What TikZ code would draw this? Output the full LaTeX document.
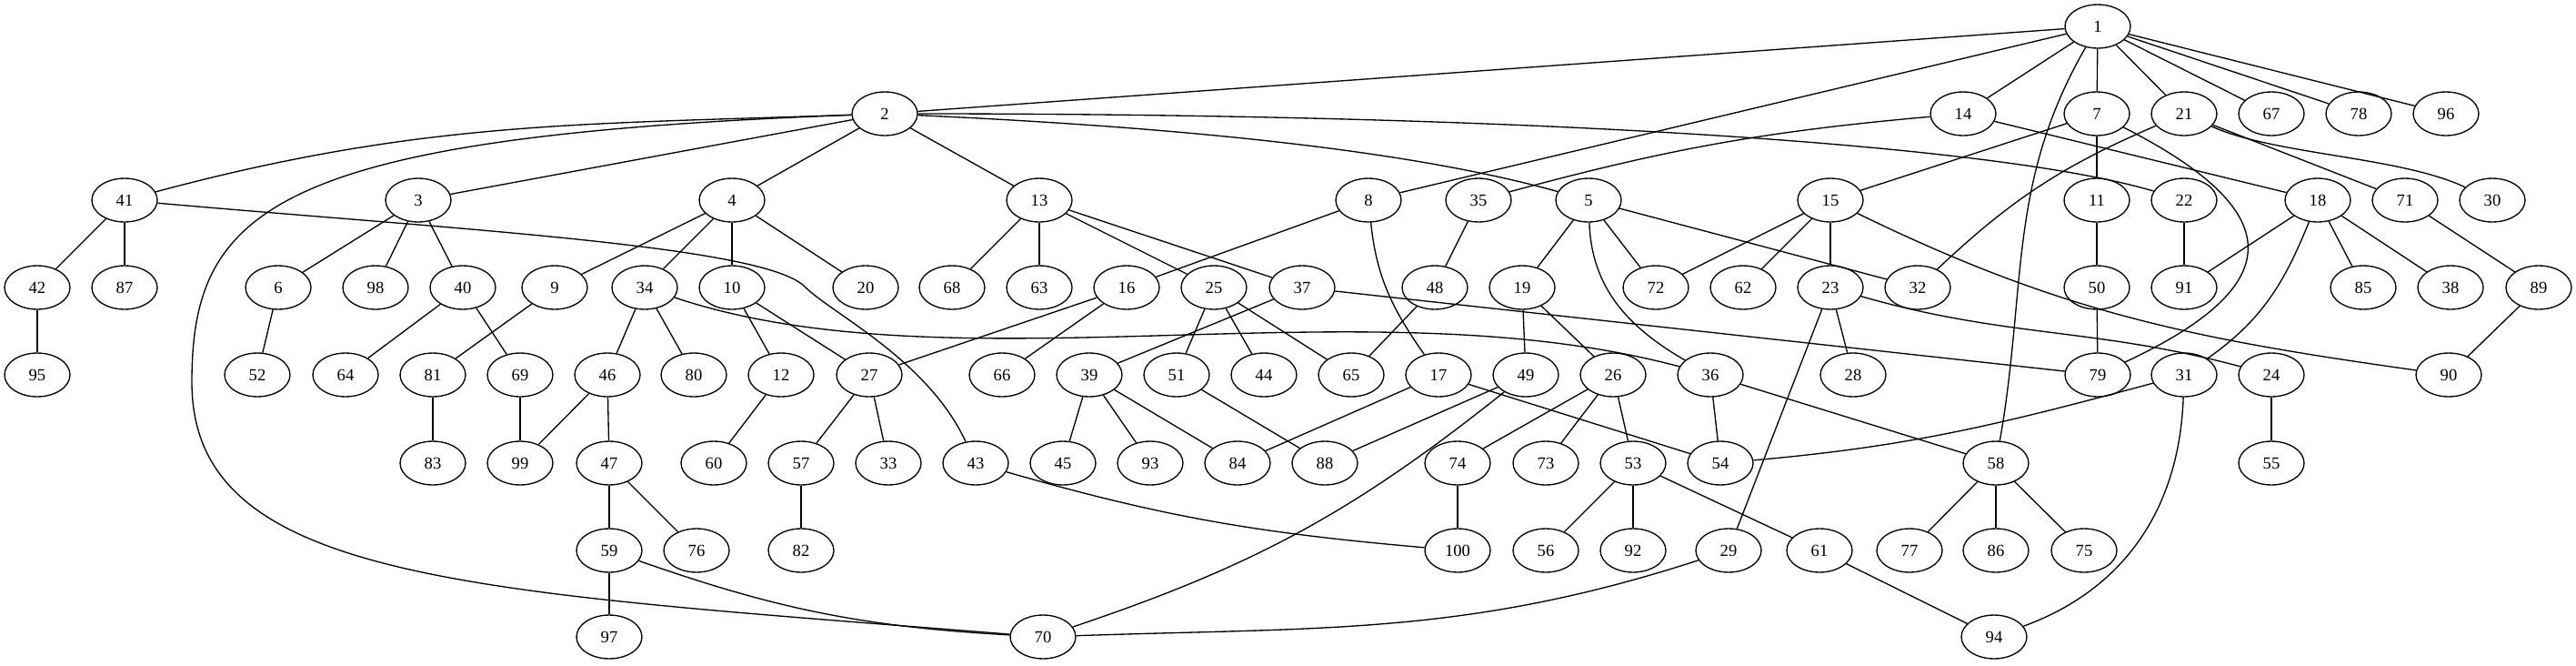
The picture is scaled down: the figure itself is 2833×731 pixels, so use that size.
\documentclass[tikz,border=0pt]{standalone}
\usepackage{fontspec}
\setmainfont{Liberation Serif}
\usepackage{tikz}
\usetikzlibrary{shapes.geometric}
\tikzset{arista/.style={line width=1pt}}

\begin{document}
\begin{tikzpicture}[
            x = 0.7528pt, y = 0.7528pt,
            every node/.style={draw, ellipse, line width=1pt, minimum width=54.2pt,
                minimum height=36.1pt, inner sep=0pt, font=\fontsize{14}{16}\selectfont}
        ]
            \useasboundingbox (0,0) rectangle (2833,-731);

            \node[] (1) at (2307,-29) {1};

            \node[] (2) at (973,-125) {2};
            \node[] (14) at (2159,-125) {14};
            \node[] (7) at (2306,-125) {7};
            \node[] (21) at (2402,-125) {21};
            \node[] (67) at (2498,-125) {67};
            \node[] (78) at (2594,-125) {78};
            \node[] (96) at (2690,-125) {96};

            \node[] (41) at (137,-220) {41};
            \node[] (3) at (460,-220) {3};
            \node[] (4) at (805,-220) {4};
            \node[] (13) at (1143,-220) {13};
            \node[] (8) at (1505,-220) {8};
            \node[] (35) at (1626,-220) {35};
            \node[] (5) at (1747,-220) {5};
            \node[] (15) at (2013,-220) {15};
            \node[] (11) at (2306,-220) {11};
            \node[] (22) at (2402,-220) {22};
            \node[] (18) at (2549,-220) {18};
            \node[] (71) at (2645,-220) {71};
            \node[] (30) at (2741,-220) {30};

            \node[] (42) at (41,-316) {42};
            \node[] (87) at (137,-316) {87};
            \node[] (6) at (306,-316) {6};
            \node[] (98) at (413,-316) {98};
            \node[] (40) at (509,-316) {40};
            \node[] (9) at (610,-316) {9};
            \node[] (34) at (709,-316) {34};
            \node[] (10) at (805,-316) {10};
            \node[] (20) at (952,-316) {20};
            \node[] (68) at (1047,-316) {68};
            \node[] (63) at (1143,-316) {63};
            \node[] (16) at (1239,-316) {16};
            \node[] (25) at (1335,-316) {25};
            \node[] (37) at (1432,-316) {37};
            \node[] (48) at (1578,-316) {48};
            \node[] (19) at (1674,-316) {19};
            \node[] (72) at (1821,-316) {72};
            \node[] (62) at (1917,-316) {62};
            \node[] (23) at (2013,-316) {23};
            \node[] (32) at (2109,-316) {32};
            \node[] (50) at (2306,-316) {50};
            \node[] (91) at (2402,-316) {91};
            \node[] (85) at (2599,-316) {85};
            \node[] (38) at (2695,-316) {38};
            \node[] (89) at (2792,-316) {89};

            \node[] (95) at (41,-412) {95};
            \node[] (52) at (283,-412) {52};
            \node[] (64) at (380,-412) {64};
            \node[] (81) at (476,-412) {81};
            \node[] (69) at (572,-412) {69};
            \node[] (46) at (668,-412) {46};
            \node[] (80) at (763,-412) {80};
            \node[] (12) at (859,-412) {12};
            \node[] (27) at (956,-412) {27};
            \node[] (66) at (1102,-412) {66};
            \node[] (39) at (1198,-412) {39};
            \node[] (51) at (1294,-412) {51};
            \node[] (44) at (1390,-412) {44};
            \node[] (65) at (1486,-412) {65};
            \node[] (17) at (1582,-412) {17};
            \node[] (49) at (1678,-412) {49};
            \node[] (26) at (1774,-412) {26};
            \node[] (36) at (1881,-412) {36};
            \node[] (28) at (2038,-412) {28};
            \node[] (79) at (2307,-412) {79};
            \node[] (31) at (2402,-412) {31};
            \node[] (24) at (2498,-412) {24};
            \node[] (90) at (2693,-412) {90};

            \node[] (83) at (476,-509) {83};
            \node[] (99) at (572,-509) {99};
            \node[] (47) at (670,-509) {47};
            \node[] (60) at (785,-509) {60};
            \node[] (57) at (881,-509) {57};
            \node[] (33) at (977,-509) {33};
            \node[] (43) at (1073,-509) {43};
            \node[] (45) at (1169,-509) {45};
            \node[] (93) at (1265,-509) {93};
            \node[] (84) at (1361,-509) {84};
            \node[] (88) at (1457,-509) {88};
            \node[] (74) at (1603,-509) {74};
            \node[] (73) at (1700,-509) {73};
            \node[] (53) at (1796,-509) {53};
            \node[] (54) at (1892,-509) {54};
            \node[] (58) at (2195,-509) {58};
            \node[] (55) at (2498,-509) {55};

            \node[] (59) at (670,-605) {59};
            \node[] (76) at (766,-605) {76};
            \node[] (82) at (881,-605) {82};
            \node[] (100) at (1603,-605) {100};
            \node[] (56) at (1700,-605) {56};
            \node[] (92) at (1796,-605) {92};
            \node[] (29) at (1901,-605) {29};
            \node[] (61) at (2001,-605) {61};
            \node[] (77) at (2100,-605) {77};
            \node[] (86) at (2195,-605) {86};
            \node[] (75) at (2292,-605) {75};

            \node[] (97) at (670,-700) {97};
            \node[] (70) at (1147,-700) {70};
            \node[] (94) at (2193,-700) {94};

            \draw[arista] (1) to (2);
            \draw[arista] (1) to (8);
            \draw[arista] (1) to (14);
            \draw[arista] (1) to (7);
            \draw[arista] (1) to (21);
            \draw[arista] (1) to (67);
            \draw[arista] (1) to (78);
            \draw[arista] (1) to (96);
            \draw[arista] (1) to [out=-120, in=80] (58);
            \draw[arista] (41) to [out=15, in=182] (2);
            \draw[arista] (2) to (3);
            \draw[arista] (2) to (4);
            \draw[arista] (2) to (13);
            \draw[arista] (2) .. controls (1300,-140) and (1550,-165) .. (5);
            \draw[arista] (2) .. controls (1700,-125) and (2200,-160) .. (22);
            \draw[arista] (2) .. controls (300,-150) and (211,-230) .. (211,-420)
                .. controls (211,-640) and (520,-650) .. (70);
            \draw[arista] (3) to (6);
            \draw[arista] (3) to (98);
            \draw[arista] (3) to (40);
            \draw[arista] (4) to (9);
            \draw[arista] (4) to (34);
            \draw[arista] (4) to (10);
            \draw[arista] (4) to (20);
            \draw[arista] (41) to (42);
            \draw[arista] (41) to (87);
            \draw[arista] (41) .. controls (500,-252) and (840,-270) .. (885,-315)
                .. controls (915,-345) and (1020,-395) .. (43);
            \draw[arista] (13) to (68);
            \draw[arista] (13) to (63);
            \draw[arista] (13) to (25);
            \draw[arista] (13) to (37);
            \draw[arista] (8) to (16);
            \draw[arista] (8) to [out=-84, in=125] (17);
            \draw[arista] (35) to (48);
            \draw[arista] (14) to [bend right=5] (35);
            \draw[arista] (14) to (18);
            \draw[arista] (7) to (11);
            \draw[arista] (7) to (15);
            \draw[arista] (7) to [out=-27, in=25, looseness=2] (79);
            \draw[arista] (21) to [bend right=10] (32);
            \draw[arista] (21) to (71);
            \draw[arista] (21) .. controls (2500,-170) and (2640,-172) .. (30);
            \draw[arista] (5) to (19);
            \draw[arista] (5) to (72);
            \draw[arista] (5) to (32);
            \draw[arista] (5) to [out=-88, in=150] (36);
            \draw[arista] (15) to (62);
            \draw[arista] (15) to (72);
            \draw[arista] (15) to (23);
            \draw[arista] (15) to [out=-26, in=172] (90);
            \draw[arista] (11) to (50);
            \draw[arista] (22) to (91);
            \draw[arista] (18) to (91);
            \draw[arista] (18) to [out=-112, in=35] (31);
            \draw[arista] (18) to (85);
            \draw[arista] (18) to (38);
            \draw[arista] (71) to (89);
            \draw[arista] (42) to (95);
            \draw[arista] (6) to (52);
            \draw[arista] (40) to (64);
            \draw[arista] (40) to (69);
            \draw[arista] (9) to (81);
            \draw[arista] (34) to (46);
            \draw[arista] (34) to (80);
            \draw[arista] (34) .. controls (1050,-430) and (1500,-310) .. (36);
            \draw[arista] (10) to (12);
            \draw[arista] (10) to (27);
            \draw[arista] (16) to (27);
            \draw[arista] (16) to (66);
            \draw[arista] (25) to (51);
            \draw[arista] (25) to (44);
            \draw[arista] (25) to (65);
            \draw[arista] (37) to (39);
            \draw[arista] (37) to (79);
            \draw[arista] (48) to (65);
            \draw[arista] (19) to (49);
            \draw[arista] (19) to (26);
            \draw[arista] (23) to (28);
            \draw[arista] (23) to (29);
            \draw[arista] (23) to [out=-16, in=165] (24);
            \draw[arista] (50) to (79);
            \draw[arista] (89) to (90);
            \draw[arista] (81) to (83);
            \draw[arista] (69) to (99);
            \draw[arista] (46) to (99);
            \draw[arista] (46) to (47);
            \draw[arista] (12) to (60);
            \draw[arista] (27) to (57);
            \draw[arista] (27) to (33);
            \draw[arista] (39) to (45);
            \draw[arista] (39) to (93);
            \draw[arista] (39) to (84);
            \draw[arista] (51) to (88);
            \draw[arista] (17) to (84);
            \draw[arista] (17) to (54);
            \draw[arista] (49) to (88);
            \draw[arista] (49) to [bend left=10] (70);
            \draw[arista] (26) to (74);
            \draw[arista] (26) to (73);
            \draw[arista] (26) to (53);
            \draw[arista] (36) to (54);
            \draw[arista] (36) to (58);
            \draw[arista] (31) to [out=195, in=5] (54);
            \draw[arista] (31) to [out=-92, in=20] (94);
            \draw[arista] (24) to (55);
            \draw[arista] (47) to (59);
            \draw[arista] (47) to (76);
            \draw[arista] (57) to (82);
            \draw[arista] (43) to [out=-16, in=175] (100);
            \draw[arista] (74) to (100);
            \draw[arista] (53) to (56);
            \draw[arista] (53) to (92);
            \draw[arista] (53) to (61);
            \draw[arista] (58) to (77);
            \draw[arista] (58) to (86);
            \draw[arista] (58) to (75);
            \draw[arista] (59) to (97);
            \draw[arista] (59) to [bend right=8] (70);
            \draw[arista] (29) to [out=198, in=2] (70);
            \draw[arista] (61) to (94);
        \end{tikzpicture}
\end{document}
